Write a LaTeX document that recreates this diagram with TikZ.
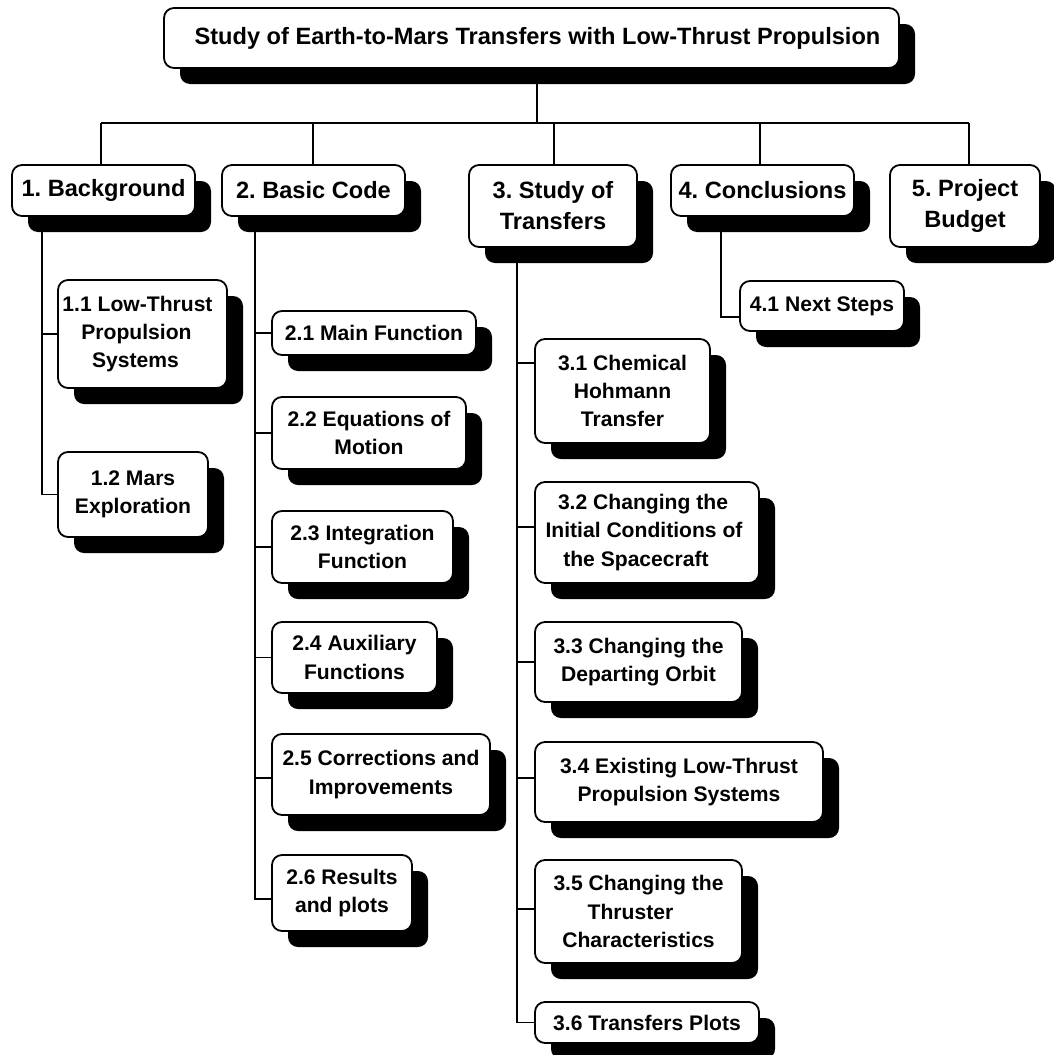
\documentclass[tikz,border=0pt]{standalone}
\usepackage{fontspec}
\setmainfont{Liberation Sans}
\frenchspacing
\pgfdeclarelayer{lines}
\pgfdeclarelayer{shadows}
\pgfsetlayers{lines,shadows,main}

\tikzset{
  wbs/.style={draw=black, fill=white, line width=1.8pt, rounded corners=10pt, rectangle, inner sep=0pt, align=center},
  lvlA/.style={wbs, font=\fontsize{23.6}{31}\selectfont\bfseries\frenchspacing},
  lvlB/.style={wbs, font=\fontsize{21.1}{28.3}\selectfont\bfseries\frenchspacing},
  shadowfill/.style={fill=black, rounded corners=10pt},
  conn/.style={draw=black, line width=1.7pt},
}

\newcommand\wbsbox[7]{%
  \pgfmathsetmacro\wbsW{#4-#2}%
  \pgfmathsetmacro\wbsH{#5-#3}%
  \pgfmathsetmacro\wbsX{(#2+#4)/2}%
  \pgfmathsetmacro\wbsY{(#3+#5)/2}%
  \begin{pgfonlayer}{shadows}
  \fill[shadowfill] (#2+16,#3+16) rectangle (#4+16,#5+16);
  \end{pgfonlayer}
  \node[#6, minimum width=\wbsW pt, minimum height=\wbsH pt] (#1) at (\wbsX,\wbsY) {#7};
}

\begin{document}
\begin{tikzpicture}[x=1pt,y=-1pt]
\useasboundingbox (0,0) rectangle (1054,1055);
\begin{pgfonlayer}{lines}
\fill[white] (0,0) rectangle (1054,1055);
\end{pgfonlayer}

% top
\wbsbox{title}{164}{8}{899}{68}{lvlA}{\kern12pt Study of Earth-to-Mars Transfers with Low-Thrust Propulsion}
% level 1
\wbsbox{bg}{12}{165}{195}{216}{lvlA}{1. Background}
\wbsbox{bc}{222}{165}{405}{216}{lvlA}{2. Basic Code}
\wbsbox{st}{469}{165}{637}{247}{lvlA}{3. Study of\\Transfers}
\wbsbox{co}{671}{165}{854}{216}{lvlA}{4. Conclusions}
\wbsbox{pb}{890}{165}{1040}{247}{lvlA}{5. Project\\Budget}
% level 2
\wbsbox{b11}{58}{280}{227}{388}{lvlB}{1.1 Low-Thrust\kern10pt\\Propulsion\kern12pt\\Systems\kern14pt}
\wbsbox{b12}{58}{452}{208}{537}{lvlB}{1.2 Mars\\Exploration}
\wbsbox{b21}{272}{311}{476}{355}{lvlB}{2.1 Main Function}
\wbsbox{b22}{272}{397}{466}{469}{lvlB}{2.2 Equations of\\Motion}
\wbsbox{b23}{272}{511}{453}{583}{lvlB}{2.3 Integration\\Function}
\wbsbox{b24}{272}{622}{437}{693}{lvlB}{2.4 Auxiliary\\Functions}
\wbsbox{b25}{272}{734}{490}{815}{lvlB}{2.5 Corrections and\\Improvements}
\wbsbox{b26}{272}{855}{412}{931}{lvlB}{2.6 Results\\and plots}
\wbsbox{b31}{535}{339}{710}{443}{lvlB}{3.1 Chemical\\Hohmann\\Transfer}
\wbsbox{b32}{535}{482}{759}{583}{lvlB}{3.2 Changing the\kern8pt\\Initial Conditions of\kern6pt\\the Spacecraft\kern22pt}
\wbsbox{b33}{535}{622}{742}{702}{lvlB}{3.3 Changing the\\Departing Orbit}
\wbsbox{b34}{535}{742}{823}{822}{lvlB}{3.4 Existing Low-Thrust\\Propulsion Systems}
\wbsbox{b35}{535}{860}{742}{963}{lvlB}{3.5 Changing the\\Thruster\kern16pt\\Characteristics}
\wbsbox{b36}{535}{1002}{759}{1043}{lvlB}{3.6 Transfers Plots}
\wbsbox{b41}{740}{281}{904}{331}{lvlB}{4.1 Next Steps}

% connectors
\coordinate (tj) at (537,123);
\coordinate (barL) at (101,123);
\coordinate (barR) at (969,123);
\coordinate (d2) at (313,123);
\coordinate (d3) at (554,123);
\coordinate (d4) at (760,123);
\coordinate (sp1) at (42,0);
\coordinate (sp2) at (255,0);
\coordinate (sp3) at (517,0);
\coordinate (sp4) at (721,0);
\coordinate (e25) at ([yshift=-3.5pt]b25.west);
\coordinate (e26) at ([yshift=-6pt]b26.west);
\coordinate (e31) at ([yshift=28pt]b31.west);
\coordinate (e32) at ([yshift=5.5pt]b32.west);
\coordinate (e34) at ([yshift=4pt]b34.west);
\coordinate (e35) at ([yshift=2.5pt]b35.west);
\coordinate (e41) at ([yshift=-11pt]b41.west);
\begin{pgfonlayer}{lines}
\draw[conn] (tj |- title.south) -- (tj);
\draw[conn] (barL) -- (barR);
\draw[conn] (barL) -- (barL |- bg.north);
\draw[conn] (d2) -- (d2 |- bc.north);
\draw[conn] (d3) -- (d3 |- st.north);
\draw[conn] (d4) -- (d4 |- co.north);
\draw[conn] (barR) -- (barR |- pb.north);
% background
\draw[conn] (sp1 |- bg.south) |- (b12.west);
\draw[conn] (sp1 |- b11.west) -- (b11.west);
% basic code
\draw[conn] (sp2 |- bc.south) |- (e26);
\draw[conn] (sp2 |- b21.west) -- (b21.west);
\draw[conn] (sp2 |- b22.west) -- (b22.west);
\draw[conn] (sp2 |- b23.west) -- (b23.west);
\draw[conn] (sp2 |- b24.west) -- (b24.west);
\draw[conn] (sp2 |- e25) -- (e25);
% study of transfers
\draw[conn] (sp3 |- st.south) |- (b36.west);
\draw[conn] (sp3 |- e31) -- (e31);
\draw[conn] (sp3 |- e32) -- (e32);
\draw[conn] (sp3 |- b33.west) -- (b33.west);
\draw[conn] (sp3 |- e34) -- (e34);
\draw[conn] (sp3 |- e35) -- (e35);
% conclusions
\draw[conn] (sp4 |- co.south) |- (e41);
\end{pgfonlayer}
\end{tikzpicture}
\end{document}
